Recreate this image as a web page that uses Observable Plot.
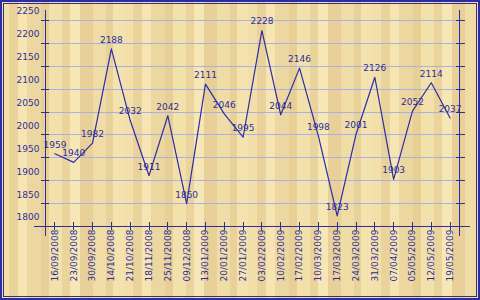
<!DOCTYPE html>
<html>
<head>
<meta charset="utf-8">
<script src="https://cdn.jsdelivr.net/npm/d3@7"></script>
<script src="https://cdn.jsdelivr.net/npm/@observablehq/plot@0.6"></script>
<style>
  html, body { margin: 0; padding: 0; background: #fff; }
  #wrap {
    position: relative; width: 480px; height: 300px; overflow: hidden;
    background-color: #eed9a2;
    background-image:
      repeating-linear-gradient(90deg,
        #f2dfaa 0px, #f2dfaa 9px,
        #eAd39b 9px, #eAd39b 18px,
        #f6e5b3 18px, #f6e5b3 27px,
        #edd7a0 27px, #edd7a0 41px,
        #e7cf95 41px, #e7cf95 49px,
        #f3e1ab 49px, #f3e1ab 62px,
        #ebd49c 62px, #ebd49c 70px,
        #f7e7b6 70px, #f7e7b6 80px,
        #e8d098 80px, #e8d098 93px,
        #f0dca6 93px, #f0dca6 106px,
        #e9d29a 106px, #e9d29a 113px,
        #f4e3ae 113px, #f4e3ae 124px);
  }
  #wrap svg { position: absolute; left: 0; top: 0; }
  .frame1 { position: absolute; left: 0; top: 0; right: 0; bottom: 0; border: 2px solid #2d2d9c; pointer-events: none; }
  .frame2 { position: absolute; left: 3px; top: 3px; right: 3px; bottom: 3px; border: 1px solid #2d2d9c; pointer-events: none; }
</style>
</head>
<body>
<div id="wrap"><div class="frame1"></div><div class="frame2"></div></div>
<script>
const dates = ["16/09/2008","23/09/2008","30/09/2008","14/10/2008","21/10/2008","18/11/2008","25/11/2008","09/12/2008","13/01/2009","20/01/2009","27/01/2009","03/02/2009","10/02/2009","17/02/2009","10/03/2009","17/03/2009","24/03/2009","31/03/2009","07/04/2009","05/05/2009","12/05/2009","19/05/2009"];
const values = [1959,1940,1982,2188,2032,1911,2042,1850,2111,2046,1995,2228,2044,2146,1998,1823,2001,2126,1903,2052,2114,2037];
const yTicks = [1800,1850,1900,1950,2000,2050,2100,2150,2200,2250];

const data = dates.map((d, i) => ({i, date: d, value: values[i]}));
const idx = dates.map((d, i) => i);
const xDomain = [-0.5, dates.length - 0.5];
const ink = "#2d2d9c";
const crisp = "crispEdges";

const chart = Plot.plot({
  width: 480, height: 300,
  marginLeft: 45, marginRight: 21, marginTop: 20, marginBottom: 74,
  x: {type: "linear", domain: xDomain, axis: null},
  y: {domain: [1800, 2250], axis: null},
  style: {background: "transparent", fontFamily: "'DejaVu Sans', Verdana, sans-serif", fontSize: "9px", color: ink, overflow: "visible"},
  marks: [
    Plot.ruleY(yTicks.slice(1), {stroke: "#aab0e4", strokeWidth: 1, shapeRendering: crisp}),
    Plot.ruleX(xDomain, {stroke: ink, insetTop: -10, insetBottom: -10, shapeRendering: crisp}),
    Plot.ruleY([yTicks[0]], {stroke: ink, insetLeft: -11, insetRight: -11, shapeRendering: crisp}),
    Plot.axisY({ticks: yTicks, tickSize: 8, dx: 4, tickFormat: () => "", label: null, stroke: ink, strokeOpacity: 1, shapeRendering: crisp}),
    Plot.axisY({ticks: yTicks, anchor: "right", tickSize: 9, dx: -4.5, tickFormat: () => "", label: null, stroke: ink, strokeOpacity: 1, shapeRendering: crisp}),
    Plot.axisY({ticks: yTicks, tickSize: 0, tickPadding: 6, dy: -9, tickFormat: d => String(d), label: null, fill: ink}),
    Plot.axisX({ticks: idx, tickSize: 8, dy: -4, tickFormat: () => "", label: null, stroke: ink, strokeOpacity: 1, shapeRendering: crisp}),
    Plot.axisX({ticks: idx, tickSize: 0, tickPadding: 3, tickRotate: -90, tickFormat: i => dates[i], label: null, fill: ink}),
    Plot.line(data, {x: "i", y: "value", stroke: "#2c2ca6", strokeWidth: 1.2}),
    Plot.text(data, {x: "i", y: "value", text: d => String(d.value), dy: -9, fill: ink})
  ]
});
document.getElementById("wrap").insertBefore(chart, document.querySelector(".frame1"));
</script>
</body>
</html>
